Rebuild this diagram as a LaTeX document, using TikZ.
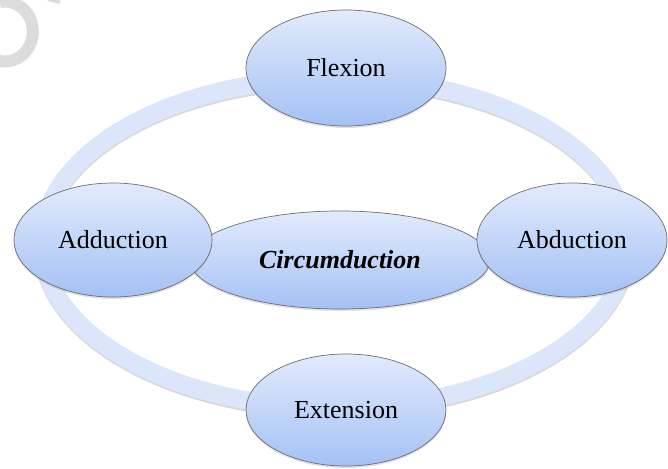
\documentclass[tikz,border=0pt]{standalone}
\usepackage{fontspec}
\setmainfont{Liberation Serif}
\usetikzlibrary{shapes.geometric,shadows}
\definecolor{ringblue}{HTML}{DCE6FA}
\definecolor{topblue}{HTML}{E2EBFC}
\definecolor{botblue}{HTML}{A4C1F5}
\definecolor{edgegray}{HTML}{6E6E6E}
\definecolor{markgray}{HTML}{DCDCDC}
\tikzset{
  motion/.style={ellipse, draw=edgegray, line width=0.7pt,
    top color=topblue, bottom color=botblue,
    inner sep=0pt, minimum width=200pt, minimum height=114pt,
    font=\fontsize{26}{30}\selectfont, text=black,
    drop shadow={shadow xshift=0pt, shadow yshift=-2pt, opacity=0.25}},
  ringband/.style={draw=ringblue, line width=18pt},
}
\begin{document}
\begin{tikzpicture}[x=1pt, y=1pt]
  \useasboundingbox (0,0) rectangle (668,468);
  % grey mark in the upper left corner
  \draw[markgray, line width=12pt] (0,466) arc[start angle=100, end angle=-105, x radius=28, y radius=30];
  \draw[markgray, line width=4pt] (48,469) -- (60,466);
  % the cycle ring
  \coordinate (c) at (335,225);
  \draw[black, opacity=0.15, line width=18pt] ([yshift=-2pt]c) ellipse [x radius=293, y radius=165];
  \draw[ringband] (c) ellipse [x radius=293, y radius=165];
  % centre and the four movements
  \node[motion, minimum width=300pt, minimum height=98pt] (circ) at (340,208) {\textbf{\textit{Circumduction}}};
  \node[motion, minimum width=198pt] (add) at (113,228) {Adduction};
  \node[motion, minimum width=190pt] (abd) at (572,228) {Abduction};
  \node[motion, minimum height=116pt] (flex) at (346,400) {Flexion};
  \node[motion, minimum height=112pt] (ext) at (346,58) {Extension};
\end{tikzpicture}
\end{document}
